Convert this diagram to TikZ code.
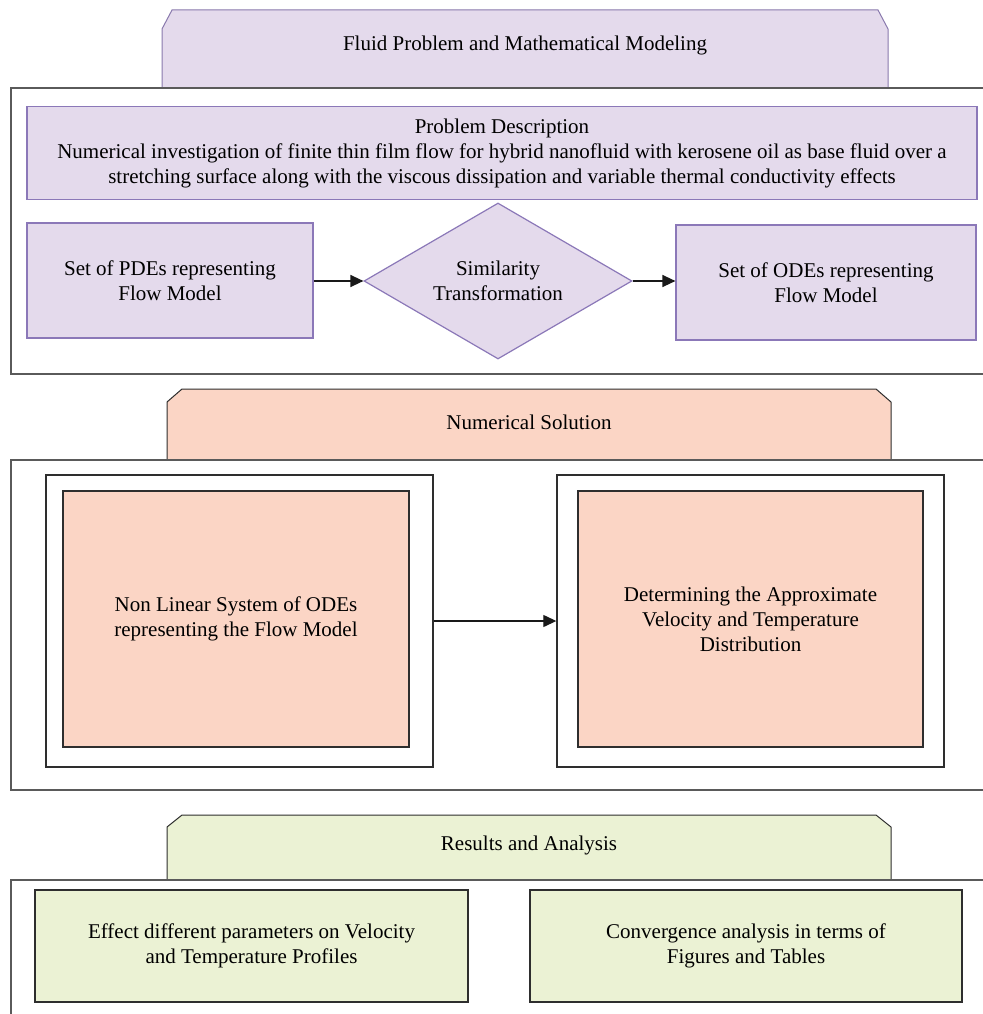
\documentclass[tikz,border=0pt]{standalone}
\usepackage{fontspec}
\setmainfont{Liberation Serif}
\usetikzlibrary{arrows.meta,shapes.geometric}
\definecolor{lav}{HTML}{E4DAEC}
\definecolor{lavb}{HTML}{8B78B8}
\definecolor{peach}{HTML}{FBD5C5}
\definecolor{grn}{HTML}{EBF2D4}
\definecolor{frm}{HTML}{5A5A5A}
\definecolor{dk}{HTML}{2E2E2E}
\tikzset{
  txt/.style={font=\fontsize{21}{25}\selectfont, align=center, text=black},
  framebox/.style={draw=frm, line width=1.6pt},
  lavbox/.style={draw=lavb, fill=lav, line width=1.2pt},
  peachbox/.style={draw=dk, fill=peach, line width=1.2pt},
  grnbox/.style={draw=dk, fill=grn, line width=1.2pt},
  whitebox/.style={draw=dk, fill=white, line width=1.4pt},
  arr/.style={draw=black!90, line width=1.3pt, -{Triangle[length=13pt,width=12pt]}},
}
\begin{document}
\begin{tikzpicture}[x=1pt,y=-1pt]
\useasboundingbox (0,0) rectangle (982,1014);
% ---------- Section 1 ----------
\fill[lav] (162,88) -- (162,29) -- (172,10) -- (878,10) -- (888,29) -- (888,88) -- cycle;
\draw[draw=lavb!80!gray, line width=1pt] (162,88) -- (162,29) -- (172,10) -- (878,10) -- (888,29) -- (888,88);
\node[txt] (t1) at (525,45) {Fluid Problem and Mathematical Modeling};
\draw[framebox] (990,88) -- (11,88) -- (11,374) -- (990,374);
\node[lavbox, minimum width=950, minimum height=93, inner sep=0] (pd) at (502,153) {};
\node[txt] at (pd.center) {Problem Description\\Numerical investigation of finite thin film flow for hybrid nanofluid with kerosene oil as base fluid over a\\stretching surface along with the viscous dissipation and variable thermal conductivity effects};
\node[lavbox, minimum width=286, minimum height=115, inner sep=0] (pde) at (170,280.5) {};
\node[txt] at (pde.center) {Set of PDEs representing\\Flow Model};
\node[lavbox, diamond, aspect=1.72, minimum width=268, minimum height=156, inner sep=0] (sim) at (498,281) {};
\node[txt] at (sim.center) {Similarity\\Transformation};
\node[lavbox, minimum width=300, minimum height=115, inner sep=0] (ode) at (826,282.5) {};
\node[txt] at (ode.center) {Set of ODEs representing\\Flow Model};
\draw[arr] (pde.east |- 0,281) -- (sim.west);
\draw[arr] (sim.east) -- (ode.west |- 0,281);
% ---------- Section 2 ----------
\fill[peach] (167,460) -- (167,402) -- (182,389) -- (876,389) -- (891,402) -- (891,460) -- cycle;
\draw[draw=dk, line width=1pt] (167,460) -- (167,402) -- (182,389) -- (876,389) -- (891,402) -- (891,460);
\node[txt] (t2) at (529,422) {Numerical Solution};
\draw[framebox] (990,460) -- (11,460) -- (11,790) -- (990,790);
\node[whitebox, minimum width=387, minimum height=292, inner sep=0] (w1) at (239.5,621) {};
\node[whitebox, minimum width=387, minimum height=292, inner sep=0] (w2) at (750.5,621) {};
\node[peachbox, minimum width=346, minimum height=256, inner sep=0] (p1) at (236,619) {};
\node[peachbox, minimum width=345, minimum height=256, inner sep=0] (p2) at (750.5,619) {};
\node[txt] at (p1.center) {Non Linear System of ODEs\\representing the Flow Model};
\node[txt] at (p2.center) {Determining the Approximate\\Velocity and Temperature\\Distribution};
\draw[arr] (w1.east |- 0,621) -- (w2.west |- 0,621);
% ---------- Section 3 ----------
\fill[grn] (167,880) -- (167,827) -- (182,815) -- (876,815) -- (891,827) -- (891,880) -- cycle;
\draw[draw=dk, line width=1pt] (167,880) -- (167,827) -- (182,815) -- (876,815) -- (891,827) -- (891,880);
\node[txt] (t3) at (529,845) {Results and Analysis};
\draw[framebox] (990,880) -- (11,880) -- (11,1020);
\node[grnbox, minimum width=433, minimum height=112, inner sep=0] (g1) at (251.5,946) {};
\node[grnbox, minimum width=432, minimum height=112, inner sep=0] (g2) at (746,946) {};
\node[txt] at (g1.center) {Effect different parameters on Velocity\\and Temperature Profiles};
\node[txt] at (g2.center) {Convergence analysis in terms of\\Figures and Tables};
\end{tikzpicture}
\end{document}
